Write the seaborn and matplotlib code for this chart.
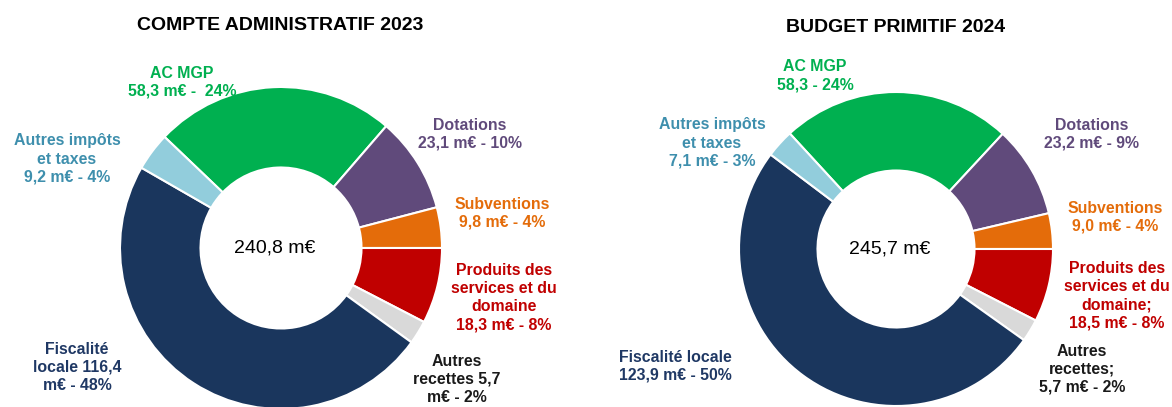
import matplotlib
matplotlib.use("Agg")
import matplotlib.pyplot as plt
import seaborn as sns

# ---------------- data ----------------
categories = ["AC MGP", "Dotations", "Subventions",
              "Produits des services et du domaine", "Autres recettes",
              "Fiscalité locale", "Autres impôts et taxes"]
values_2023 = [58.3, 23.1, 9.8, 18.3, 5.7, 116.4, 9.2]
values_2024 = [58.3, 23.2, 9.0, 18.5, 5.7, 123.9, 7.1]
labels_2023 = ["AC MGP\n58,3 m€ -  24%",
               "Dotations\n23,1 m€ - 10%",
               "Subventions\n9,8 m€ - 4%",
               "Produits des\nservices et du\ndomaine\n18,3 m€ - 8%",
               "Autres\nrecettes 5,7\nm€ - 2%",
               "Fiscalité\nlocale 116,4\nm€ - 48%",
               "Autres impôts\net taxes\n9,2 m€ - 4%"]
labels_2024 = ["AC MGP\n58,3 - 24%",
               "Dotations\n23,2 m€ - 9%",
               "Subventions\n9,0 m€ - 4%",
               "Produits des\nservices et du\ndomaine;\n18,5 m€ - 8%",
               "Autres\nrecettes;\n5,7 m€ - 2%",
               "Fiscalité locale\n123,9 m€ - 50%",
               "Autres impôts\net taxes\n7,1 m€ - 3%"]
titles = ["COMPTE ADMINISTRATIF 2023", "BUDGET PRIMITIF 2024"]

# ---------------- style ----------------
sns.set_theme(style="white")
plt.rcParams["font.family"] = ["Liberation Sans", "DejaVu Sans"]

wedge_colors = sns.color_palette(["#00B050", "#604A7B", "#E46C0A", "#C00000",
                                  "#D9D9D9", "#1A365D", "#92CDDC"])
label_colors = ["#00B050", "#604A7B", "#E46C0A", "#C00000",
                "#1A1A1A", "#1F3864", "#3E8FAD"]

W, H = 1172, 407
fig = plt.figure(figsize=(W / 100, H / 100), dpi=100)
fig.patch.set_facecolor("white")

# layout (pixels)
charts = [
    dict(values=values_2023, labels=labels_2023, title=titles[0],
         cx=281, cy=248, r=161, title_xy=(280, 25),
         label_xy=[(182, 82.5), (470, 134), (502, 213), (504, 297.5),
                   (457, 379), (77, 367.5), (67, 159)]),
    dict(values=values_2024, labels=labels_2024, title=titles[1],
         cx=896, cy=249, r=157, title_xy=(896, 28),
         label_xy=[(815, 75.5), (1092, 134.5), (1115, 217.5), (1117, 295.5),
                   (1082, 369), (675, 366), (712, 143)]),
]

for ch in charts:
    cx, cy, r = ch["cx"], ch["cy"], ch["r"]
    ax = fig.add_axes([(cx - r) / W, (H - cy - r) / H, 2 * r / W, 2 * r / H])
    vals = ch["values"]
    total = sum(vals)
    start = 360.0 * sum(vals[:3]) / total
    ax.pie(vals, colors=wedge_colors, startangle=start, counterclock=False,
           radius=1.0,
           wedgeprops=dict(width=0.5, edgecolor="white", linewidth=1.5))
    ax.set_xlim(-1, 1)
    ax.set_ylim(-1, 1)
    ax.set_aspect("equal")
    ax.axis("off")
    total_txt = f"{total:.1f}".replace(".", ",") + " m€"
    ax.text(-0.04, 0, total_txt, ha="center", va="center", fontsize=14,
            color="black")

    tx, ty = ch["title_xy"]
    fig.text(tx / W, 1 - ty / H, ch["title"], ha="center", va="center",
             fontsize=14, fontweight="bold", color="black")

    for lab, (lx, ly), col in zip(ch["labels"], ch["label_xy"], label_colors):
        fig.text(lx / W, 1 - ly / H, lab, ha="center", va="center",
                 multialignment="center", fontsize=11.4, fontweight="bold",
                 color=col, linespacing=1.25)

fig.savefig("out.png", dpi=100, facecolor="white")
